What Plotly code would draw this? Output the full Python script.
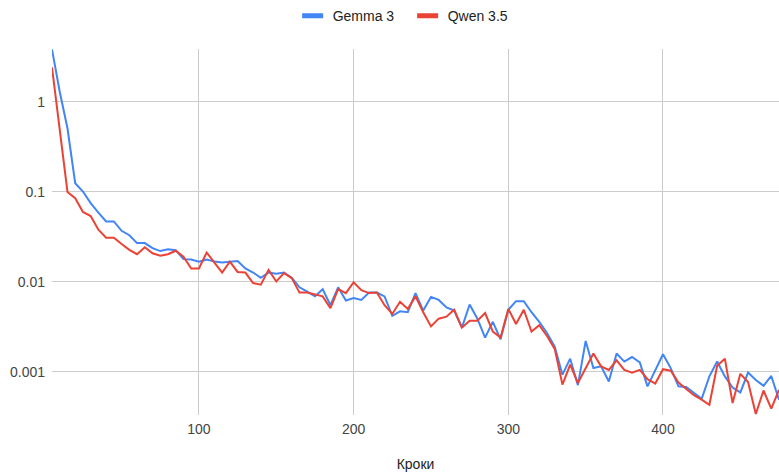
import plotly.graph_objects as go

# Training steps (x) and loss values for each model
steps = list(range(5, 480, 5))

gemma_3 = [
    3.85, 1.3, 0.51, 0.125, 0.101, 0.075, 0.059, 0.047, 0.047, 0.037,
    0.033, 0.027, 0.027, 0.0237, 0.022, 0.023, 0.0225, 0.0179, 0.0177, 0.0168,
    0.0177, 0.0168, 0.0164, 0.0168, 0.0171, 0.0141, 0.0127, 0.0111, 0.0127, 0.0123,
    0.0127, 0.0111, 0.0087, 0.0078, 0.0069, 0.0083, 0.0055, 0.0087, 0.0062, 0.0066,
    0.0063, 0.0076, 0.0076, 0.0069, 0.0042, 0.0047, 0.0046, 0.0075, 0.0048, 0.0068,
    0.0063, 0.0052, 0.0048, 0.0031, 0.0056, 0.0039, 0.0024, 0.0036, 0.0023, 0.0049,
    0.0061, 0.0061, 0.0046, 0.0036, 0.0027, 0.0019, 0.00093, 0.0014, 0.00071, 0.0022,
    0.0011, 0.00115, 0.00078, 0.0016, 0.0013, 0.00146, 0.00127, 0.00069, 0.00105, 0.00157,
    0.0011, 0.00069, 0.00068, 0.00058, 0.0005, 0.00089, 0.0013, 0.00089, 0.00067, 0.00059,
    0.00098, 0.00081, 0.0007, 0.0009, 0.00049,
]

qwen_3_5 = [
    2.43, 0.48, 0.10, 0.085, 0.060, 0.054, 0.038, 0.031, 0.031, 0.0264,
    0.0227, 0.0203, 0.0243, 0.0208, 0.0195, 0.0203, 0.0222, 0.0191, 0.0141, 0.0141,
    0.0212, 0.0164, 0.0127, 0.0168, 0.0129, 0.0127, 0.0097, 0.0093, 0.0136, 0.0101,
    0.0125, 0.011, 0.0076, 0.0076, 0.0072, 0.0069, 0.0051, 0.0083, 0.0075, 0.0099,
    0.0081, 0.0075, 0.0076, 0.0055, 0.0044, 0.006, 0.005, 0.0069, 0.0046, 0.0032,
    0.0039, 0.0041, 0.0049, 0.0031, 0.0037, 0.0037, 0.0045, 0.0028, 0.0024, 0.005,
    0.0034, 0.0049, 0.0028, 0.0033, 0.0025, 0.0018, 0.00072, 0.0012, 0.00075, 0.0011,
    0.0016, 0.00115, 0.00105, 0.00134, 0.00105, 0.00098, 0.00105, 0.00083, 0.00074, 0.00107,
    0.00103, 0.00076, 0.00064, 0.00055, 0.00049, 0.00043, 0.00117, 0.0014, 0.00045, 0.00095,
    0.00077, 0.00034, 0.00062, 0.00039, 0.00063,
]

series_names = ["Gemma 3", "Qwen 3.5"]
series_colors = ["#4285F4", "#EA4335"]

y_ticks = [0.001, 0.01, 0.1, 1]
y_tick_labels = ["0.001", "0.01", "0.1", "1"]
x_ticks = [100, 200, 300, 400]

FONT = "Liberation Sans, Arial, sans-serif"

fig = go.Figure()

for name, values, color in zip(series_names, [gemma_3, qwen_3_5], series_colors):
    fig.add_trace(go.Scatter(
        x=steps, y=values, mode="lines", name=name,
        line=dict(color=color, width=2), showlegend=False,
    ))

# Legend entries drawn as short thick bars
for name, color in zip(series_names, series_colors):
    fig.add_trace(go.Scatter(
        x=[None], y=[None], mode="markers", name=name,
        marker=dict(symbol="line-ew", size=15, line=dict(width=5, color=color)),
    ))

fig.update_layout(
    width=779, height=475,
    margin=dict(l=52, r=0, t=49, b=60),
    paper_bgcolor="white", plot_bgcolor="white",
    font=dict(family=FONT, size=14, color="#444444"),
    legend=dict(
        orientation="h", x=0.331, xanchor="left", y=1.09, yanchor="middle",
        font=dict(size=14, color="#222222"), itemwidth=30,
        entrywidth=70, entrywidthmode="pixels",
        bgcolor="rgba(0,0,0,0)",
    ),
    xaxis=dict(
        range=[5, 475], tickvals=x_ticks, showgrid=True, gridcolor="#cccccc",
        gridwidth=1, zeroline=False, showline=False, ticks="",
        tickfont=dict(size=14, color="#444444"), ticklabelstandoff=4,
        title=dict(text="Кроки", font=dict(size=14, color="#222222"), standoff=23),
    ),
    yaxis=dict(
        type="log", range=[-3.48, 0.589], tickvals=y_ticks, ticktext=y_tick_labels,
        showgrid=True, gridcolor="#cccccc", gridwidth=1, zeroline=False,
        showline=False, ticks="", tickfont=dict(size=14, color="#444444"),
        ticklabelstandoff=6,
    ),
)

fig.write_html("out.html")
